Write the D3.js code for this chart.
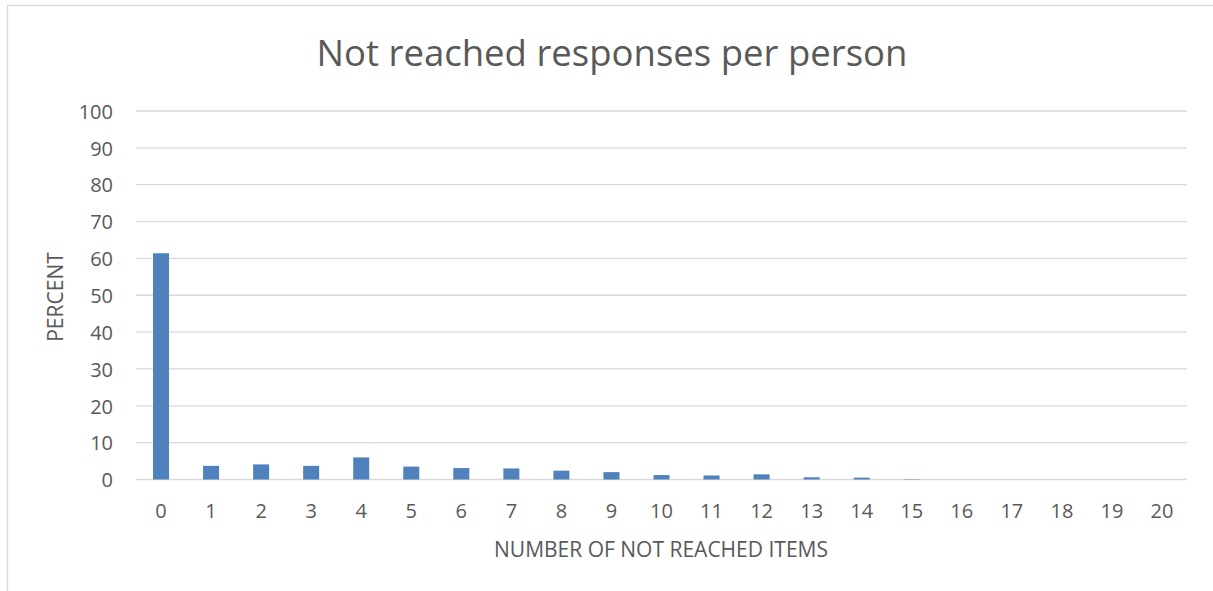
<!DOCTYPE html>
<html>
<head>
<meta charset="utf-8">
<script src="https://cdn.jsdelivr.net/npm/d3@7"></script>
<style>
body { margin: 0; background: #fff; }
text { font-family: "Open Sans", "Liberation Sans", sans-serif; fill: #595959; }
</style>
</head>
<body>
<script>
// chart values
var categories = ["0","1","2","3","4","5","6","7","8","9","10","11","12","13","14","15","16","17","18","19","20"];
var percents = [61.4, 3.7, 4.1, 3.7, 6.0, 3.5, 3.1, 3.0, 2.4, 2.0, 1.2, 1.1, 1.4, 0.6, 0.5, 0.1, 0, 0, 0, 0, 0];
var yTicks = [0, 10, 20, 30, 40, 50, 60, 70, 80, 90, 100];

var width = 1213, height = 591;
var margin = {top: 111, left: 136, right: 26, bottom: 111};

var svg = d3.select("body").append("svg")
    .attr("width", width)
    .attr("height", height);

// chart frame
svg.append("rect")
    .attr("x", 7.5).attr("y", 5.5)
    .attr("width", width + 10).attr("height", height + 10)
    .attr("fill", "none")
    .attr("stroke", "#d9d9d9")
    .attr("stroke-width", 1.3);

var x = d3.scaleBand()
    .domain(categories)
    .range([margin.left, width - margin.right])
    .paddingInner(0.68)
    .paddingOuter(0.34);

var y = d3.scaleLinear()
    .domain([0, 100])
    .range([height - margin.bottom - 0.5, margin.top]);

// gridlines
svg.append("g")
    .selectAll("line")
    .data(yTicks)
    .enter()
    .append("line")
    .attr("x1", margin.left)
    .attr("x2", width - margin.right)
    .attr("y1", function(d){return y(d);})
    .attr("y2", function(d){return y(d);})
    .attr("stroke", "#d9d9d9")
    .attr("stroke-width", 1.3);

var yAxis = svg.append("g")
    .attr("transform", "translate(113,0)")
    .call(d3.axisLeft(y).tickValues(yTicks).tickSize(0).tickPadding(0));
yAxis.select(".domain").remove();
yAxis.selectAll("text")
    .attr("font-size", "20px")
    .attr("dy", "0.36em")
    .style("font-family", "'Open Sans', sans-serif")
    .attr("fill", "#595959");

// bars
svg.append("g")
    .selectAll("rect")
    .data(percents)
    .enter()
    .append("rect")
    .attr("x", function(d, i){return x(categories[i]);})
    .attr("y", function(d){return y(d);})
    .attr("width", x.bandwidth())
    .attr("height", function(d){return y(0) - y(d);})
    .attr("fill", "#4f81bd");

var xAxis = svg.append("g")
    .attr("transform", "translate(0," + (height - margin.bottom) + ")")
    .call(d3.axisBottom(x).tickSize(0).tickPadding(24));
xAxis.select(".domain").remove();
xAxis.selectAll("text")
    .attr("font-size", "20px")
    .style("font-family", "'Open Sans', sans-serif")
    .attr("fill", "#595959");

// titles
svg.append("text")
    .attr("x", 612)
    .attr("y", 66)
    .attr("text-anchor", "middle")
    .attr("font-size", "36.5px")
    .text("Not reached responses per person");

svg.append("text")
    .attr("x", 661)
    .attr("y", 557)
    .attr("text-anchor", "middle")
    .attr("font-size", "21px")
    .text("NUMBER OF NOT REACHED ITEMS");

svg.append("text")
    .attr("transform", "translate(63,297) rotate(-90)")
    .attr("text-anchor", "middle")
    .attr("font-size", "21px")
    .text("PERCENT");
</script>
</body>
</html>
